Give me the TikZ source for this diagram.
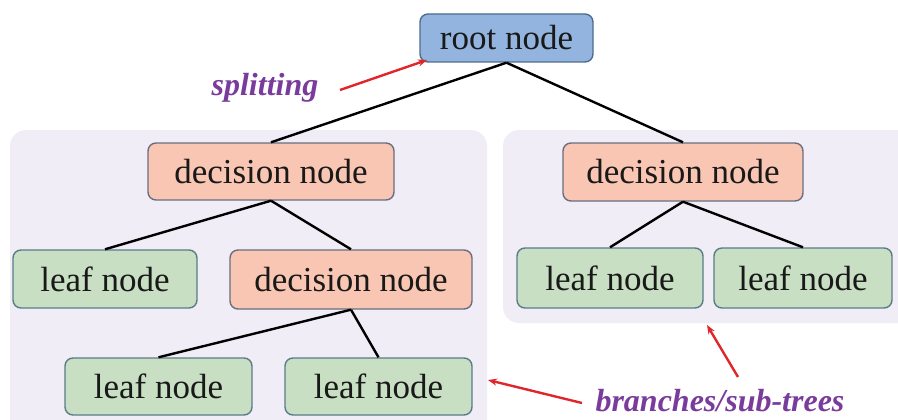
\documentclass[tikz,border=0pt]{standalone}
\usepackage{fontspec}
\setmainfont{Liberation Serif}
\usetikzlibrary{arrows.meta}
\definecolor{rootfill}{HTML}{92B4DE}
\definecolor{rootdraw}{HTML}{4E6C8C}
\definecolor{decfill}{HTML}{F8C6B2}
\definecolor{decdraw}{HTML}{6A6E80}
\definecolor{leaffill}{HTML}{C8DFC3}
\definecolor{leafdraw}{HTML}{5A7C8A}
\definecolor{panelfill}{HTML}{F1EDF7}
\definecolor{notecol}{HTML}{7A3C9C}
\definecolor{pointer}{HTML}{E0262B}
\tikzset{
  box/.style={rounded corners=8pt, line width=1.4pt, inner sep=0pt,
    font=\fontsize{35}{40}\selectfont, text=black!90},
  rootbox/.style={box, fill=rootfill, draw=rootdraw},
  decbox/.style={box, fill=decfill, draw=decdraw},
  leafbox/.style={box, fill=leaffill, draw=leafdraw},
  panel/.style={fill=panelfill, rounded corners=16pt},
  edge/.style={line width=2.4pt, black},
  note/.style={font=\fontsize{32}{36}\selectfont\bfseries\itshape, text=notecol},
  pointarrow/.style={line width=2.4pt, pointer, -{Stealth[length=9pt,width=7pt]}}
}
\begin{document}
\begin{tikzpicture}[x=1pt,y=-1pt]
\useasboundingbox (0,0) rectangle (898,420);
\begin{scope}
\clip (0,0) rectangle (898,420);
% sub-tree panels
\fill[panel] (10,130) rectangle (487,440);
\fill[panel] (503,130) rectangle (920,323);
\end{scope}

% nodes
\node[rootbox, minimum width=173pt, minimum height=48pt] (root) at (506.5,38) {root node};
\node[decbox, minimum width=246pt, minimum height=57pt] (d1) at (271,171.5) {decision node};
\node[leafbox, minimum width=184pt, minimum height=58pt] (l1) at (105,279) {leaf node};
\node[decbox, minimum width=242pt, minimum height=59pt] (d2) at (351,279.5) {decision node};
\node[leafbox, minimum width=187pt, minimum height=57pt] (l3) at (158.5,386.5) {leaf node};
\node[leafbox, minimum width=187pt, minimum height=57pt] (l4) at (378.5,386.5) {leaf node};
\node[decbox, minimum width=240pt, minimum height=58pt] (rd) at (683,172) {decision node};
\node[leafbox, minimum width=186pt, minimum height=60pt] (rl1) at (610,278) {leaf node};
\node[leafbox, minimum width=178pt, minimum height=60pt] (rl2) at (803,278) {leaf node};

% tree edges
\draw[edge] (root.south) -- (d1.north);
\draw[edge] (root.south) -- (rd.north);
\draw[edge] (d1.south) -- (l1.north);
\draw[edge] (d1.south) -- (d2.north);
\draw[edge] (d2.south) -- (l3.north);
\draw[edge] (d2.south) -- (l4.north);
\draw[edge] (rd.south) -- (rl1.north);
\draw[edge] (rd.south) -- (rl2.north);

% annotations
\node[note] (split) at (265,88) {splitting};
\node[note] (branch) at (720,401) {branches/sub-trees};
\coordinate (splitfrom) at (340,90);
\coordinate (splitto) at (427,60);
\coordinate (bfromA) at (582,403);
\coordinate (btoA) at (488,380);
\coordinate (bfromB) at (738,377);
\coordinate (btoB) at (707,325);
\draw[pointarrow] (splitfrom) -- (splitto);
\draw[pointarrow] (bfromA) -- (btoA);
\draw[pointarrow] (bfromB) -- (btoB);
\end{tikzpicture}
\end{document}
